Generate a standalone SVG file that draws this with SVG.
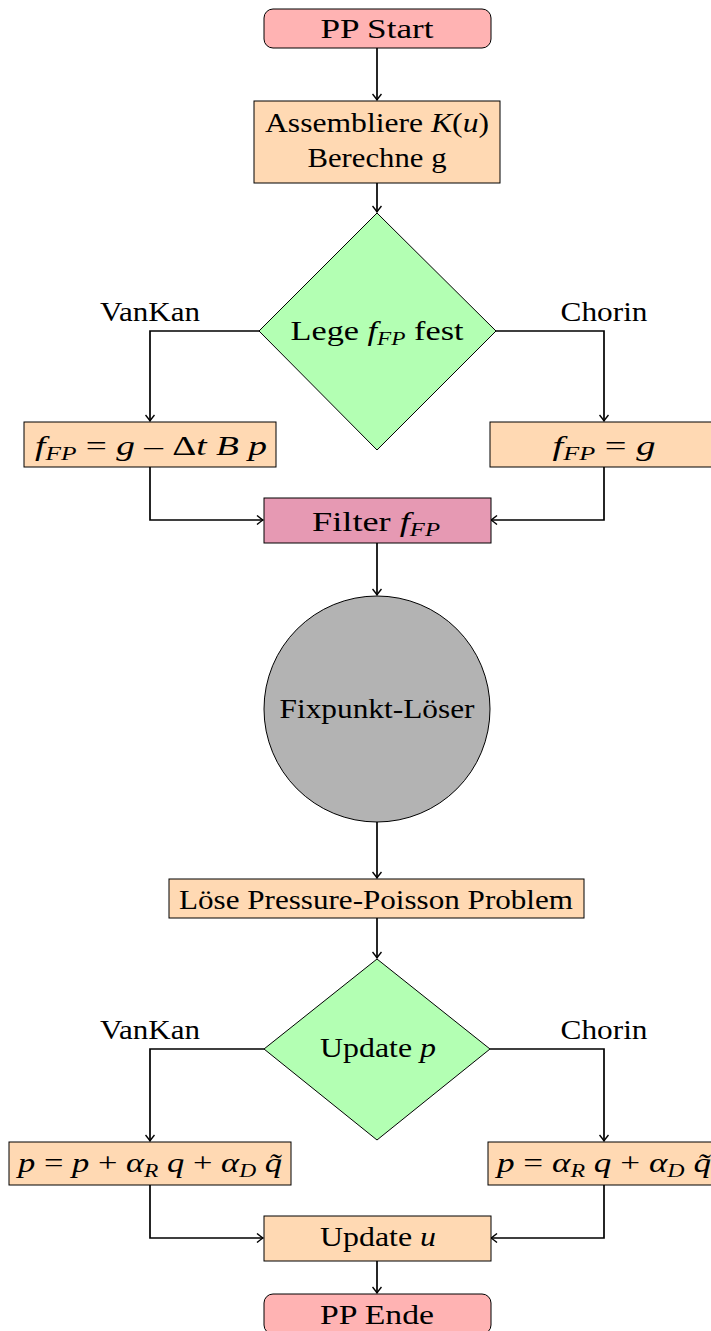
<svg xmlns="http://www.w3.org/2000/svg" width="711" height="1331" viewBox="0 0 711 1331">
<style>
text{font-family:"Liberation Serif","DejaVu Serif",serif;font-size:28px;fill:#000;text-anchor:middle}
.i{font-style:italic}
.s{font-size:19px;font-style:italic}
.box{stroke:#000;stroke-width:1}
.start{fill:#ffb3b3}
.proc{fill:#ffd9b3}
.dec{fill:#b3ffb3}
.filt{fill:#e699b3}
.circ{fill:#b3b3b3}
.c{fill:none;stroke:#000;stroke-width:1.7;marker-end:url(#ah)}
</style>
<defs>
<marker id="ah" viewBox="-7 -5 8 10" markerWidth="8" markerHeight="10" refX="0" refY="0" orient="auto" markerUnits="userSpaceOnUse">
<path d="M-6,-4.5 Q-2,-1.2 0,0 Q-2,1.2 -6,4.5" fill="none" stroke="#000" stroke-width="1.4"/>
</marker>
</defs>
<g id="connectors">
<path class="c" d="M377,48 V100"/>
<path class="c" d="M377,183 V212"/>
<path class="c" d="M259,331 H150 V421"/>
<path class="c" d="M496,331 H604 V421"/>
<path class="c" d="M150,467 V520 H263"/>
<path class="c" d="M604,467 V520 H491"/>
<path class="c" d="M377,543 V595"/>
<path class="c" d="M377,822 V878"/>
<path class="c" d="M377,918 V958"/>
<path class="c" d="M264,1049 H150 V1141"/>
<path class="c" d="M490,1049 H604 V1141"/>
<path class="c" d="M150,1185 V1238 H263"/>
<path class="c" d="M604,1185 V1238 H491"/>
<path class="c" d="M377,1261 V1293"/>
</g>
<g id="labels">
<text x="150" y="321" textLength="100" lengthAdjust="spacingAndGlyphs">VanKan</text>
<text x="604" y="321" textLength="87" lengthAdjust="spacingAndGlyphs">Chorin</text>
<text x="150" y="1039" textLength="100" lengthAdjust="spacingAndGlyphs">VanKan</text>
<text x="604" y="1039" textLength="87" lengthAdjust="spacingAndGlyphs">Chorin</text>
</g>
<g id="pp-start">
<rect class="box start" x="264" y="9" width="227" height="39" rx="9"/>
<text x="377" y="38" textLength="113" lengthAdjust="spacingAndGlyphs">PP Start</text>
</g>
<g id="assemble">
<rect class="box proc" x="254" y="101" width="246" height="82"/>
<text x="377" y="132" textLength="224" lengthAdjust="spacingAndGlyphs">Assembliere <tspan class="i">K</tspan>(<tspan class="i">u</tspan>)</text>
<text x="377" y="167" textLength="139" lengthAdjust="spacingAndGlyphs">Berechne g</text>
</g>
<g id="decide-ffp">
<polygon class="box dec" points="377,213 496,331 377,450 259,331"/>
<text x="377" y="340" textLength="173" lengthAdjust="spacingAndGlyphs">Lege <tspan class="i">f</tspan><tspan class="s" dy="5">FP</tspan><tspan dy="-5"> fest</tspan></text>
</g>
<g id="ffp-vankan">
<rect class="box proc" x="24" y="422" width="252" height="45"/>
<text x="151" y="455" textLength="232" lengthAdjust="spacingAndGlyphs"><tspan class="i">f</tspan><tspan class="s" dy="5">FP</tspan><tspan dy="-5"> = </tspan><tspan class="i">g</tspan> – Δ<tspan class="i">t B p</tspan></text>
</g>
<g id="ffp-chorin">
<rect class="box proc" x="490" y="422" width="230" height="45"/>
<text x="604" y="455" textLength="103" lengthAdjust="spacingAndGlyphs"><tspan class="i">f</tspan><tspan class="s" dy="5">FP</tspan><tspan dy="-5"> = </tspan><tspan class="i">g</tspan></text>
</g>
<g id="filter">
<rect class="box filt" x="264" y="498" width="227" height="45"/>
<text x="376" y="531" textLength="128" lengthAdjust="spacingAndGlyphs">Filter <tspan class="i">f</tspan><tspan class="s" dy="5">FP</tspan></text>
</g>
<g id="fixpunkt">
<circle class="box circ" cx="377" cy="709" r="113"/>
<text x="377" y="718" textLength="195" lengthAdjust="spacingAndGlyphs">Fixpunkt-Löser</text>
</g>
<g id="ppp">
<rect class="box proc" x="169" y="879" width="415" height="39"/>
<text x="376" y="909" textLength="394" lengthAdjust="spacingAndGlyphs">Löse Pressure-Poisson Problem</text>
</g>
<g id="update-p">
<polygon class="box dec" points="377,959 490,1049 377,1140 264,1049"/>
<text x="378" y="1057" textLength="116" lengthAdjust="spacingAndGlyphs">Update <tspan class="i">p</tspan></text>
</g>
<g id="p-vankan">
<rect class="box proc" x="9" y="1142" width="282" height="43"/>
<text x="150" y="1172" textLength="264" lengthAdjust="spacingAndGlyphs"><tspan class="i">p</tspan> = <tspan class="i">p</tspan> + <tspan class="i">α</tspan><tspan class="s" dy="5">R</tspan><tspan dy="-5"> </tspan><tspan class="i">q</tspan> + <tspan class="i">α</tspan><tspan class="s" dy="5">D</tspan><tspan dy="-5"> </tspan><tspan class="i">q̃</tspan></text>
</g>
<g id="p-chorin">
<rect class="box proc" x="488" y="1142" width="240" height="43"/>
<text x="604" y="1172" textLength="214" lengthAdjust="spacingAndGlyphs"><tspan class="i">p</tspan> = <tspan class="i">α</tspan><tspan class="s" dy="5">R</tspan><tspan dy="-5"> </tspan><tspan class="i">q</tspan> + <tspan class="i">α</tspan><tspan class="s" dy="5">D</tspan><tspan dy="-5"> </tspan><tspan class="i">q̃</tspan></text>
</g>
<g id="update-u">
<rect class="box proc" x="264" y="1216" width="227" height="45"/>
<text x="378" y="1246" textLength="116" lengthAdjust="spacingAndGlyphs">Update <tspan class="i">u</tspan></text>
</g>
<g id="pp-ende">
<rect class="box start" x="264" y="1294" width="227" height="40" rx="9"/>
<text x="377" y="1324" textLength="114" lengthAdjust="spacingAndGlyphs">PP Ende</text>
</g>
</svg>
